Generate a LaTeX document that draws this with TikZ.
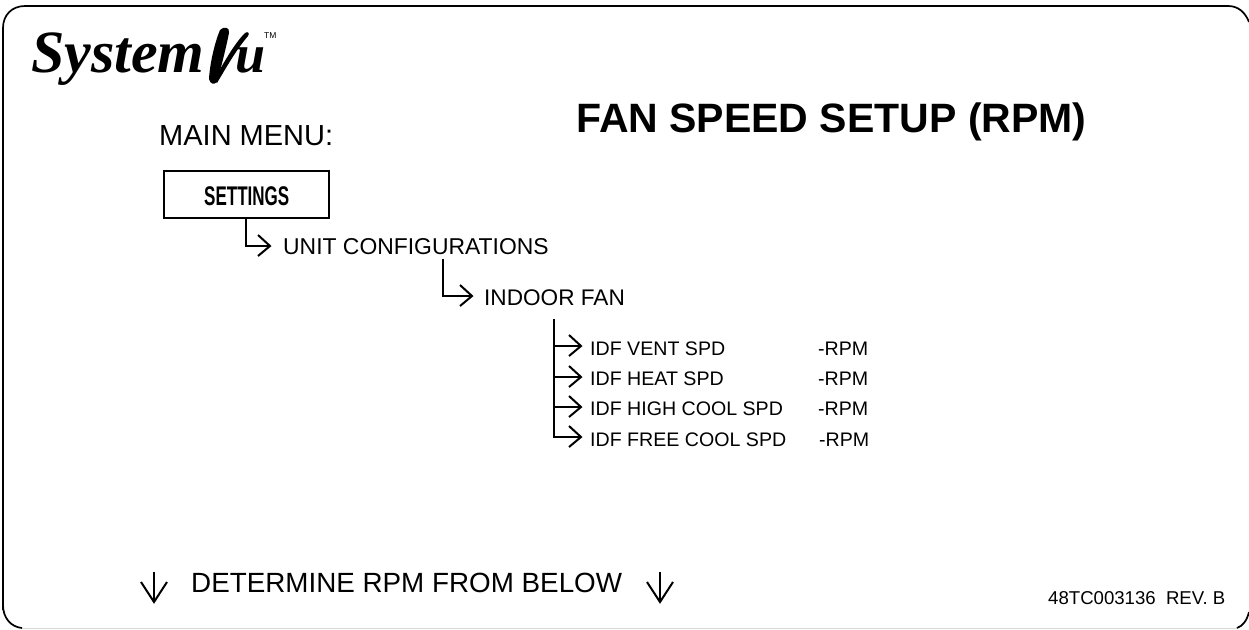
\documentclass[tikz,border=0pt]{standalone}
\usepackage{fontspec}
\setmainfont{Liberation Sans}
\newfontfamily\logofont{Liberation Serif}
\newfontfamily\narrowfont[FakeStretch=0.63]{Liberation Sans}
\begin{document}
\begin{tikzpicture}[x=1pt,y=-1pt,
  lbl/.style={inner sep=0pt,anchor=base west,text=black},
  rowtext/.style={lbl,font=\fontsize{19.6}{19.6}\selectfont},
  conn/.style={line width=2pt,black},
  frameline/.style={line width=1.7pt,black}]
\useasboundingbox (0,0) rectangle (1249,629);
\fill[white] (0,0) rectangle (1249,629);
% frame
\draw[frameline] (3,610) -- (3,28) .. controls (3,15) and (12,6) .. (25,6) -- (1228,6) .. controls (1238,6) and (1245,12) .. (1249,22);
\draw[frameline] (3,605) .. controls (3,618) and (11,627) .. (22,628);
\draw[frameline] (1237,628) .. controls (1243,626) and (1247,620) .. (1249,612);
\draw[line width=1pt,black!15] (22,628.5) -- (1237,628.5);
% logo
\node[lbl] (logo) at (31,72) {\logofont\itshape\bfseries\fontsize{60}{60}\selectfont System};
\fill[black] (220,30) .. controls (224,26) and (230,27) .. (229,33) .. controls (226,48) and (221,68) .. (217,82)
  .. controls (214,85) and (210,84) .. (209,79) .. controls (210,62) and (215,42) .. (220,30) -- cycle;
\fill[black] (214,80) .. controls (223,64) and (234,44) .. (245,33) .. controls (248,31) and (250,33) .. (248,36)
  .. controls (236,50) and (226,68) .. (217,83) -- cycle;
\node[lbl] (vu) at (235,72) {\logofont\itshape\bfseries\fontsize{54}{54}\selectfont u};
\node[lbl] (tm) at (264,38.5) {\fontsize{8.5}{8.5}\selectfont TM};
% labels
\node[lbl] (menu) at (159,145) {\fontsize{29}{29}\selectfont MAIN MENU:};
\node[lbl] (title) at (576,132) {\bfseries\fontsize{41}{41}\selectfont FAN SPEED SETUP (RPM)};
\node[draw=black,line width=2pt,minimum width=165pt,minimum height=47pt,inner sep=0pt] (set) at (246.5,194.5) {};
\node[lbl] (settings) at (204,205) {\narrowfont\bfseries\fontsize{27}{27}\selectfont SETTINGS};
\node[lbl] (unit) at (283,254) {\fontsize{22.9}{22.9}\selectfont UNIT CONFIGURATIONS};
\node[lbl] (fan) at (484,305.5) {\fontsize{22.6}{22.6}\selectfont INDOOR FAN};
\node[rowtext] (v) at (590,355) {IDF VENT SPD};
\node[rowtext] (h) at (590,385) {IDF HEAT SPD};
\node[rowtext] (c) at (590,415.5) {IDF HIGH COOL SPD};
\node[rowtext] (f) at (590,446) {IDF FREE COOL SPD};
\node[rowtext] (r1) at (818,355) {-RPM};
\node[rowtext] (r2) at (818,385) {-RPM};
\node[rowtext] (r3) at (818,415.5) {-RPM};
\node[rowtext] (r4) at (819,446) {-RPM};
\node[lbl] (det) at (191,592) {\fontsize{27.8}{27.8}\selectfont DETERMINE RPM FROM BELOW};
\node[lbl] (rev) at (1048,604) {\fontsize{18.6}{18.6}\selectfont 48TC003136\ \ REV. B};
% connectors
\coordinate (a1) at (270,246);
\coordinate (a2) at (472,296);
\coordinate (a3) at (581,346);
\coordinate (a4) at (581,377);
\coordinate (a5) at (581,407);
\coordinate (a6) at (581,437);
\draw[conn] (246,219) -- (246,246) -- (a1);
\draw[conn] (443,259) -- (443,296) -- (a2);
\draw[conn] (554,319) -- (554,437) -- (a6);
\draw[conn] (554,346) -- (a3);
\draw[conn] (554,377) -- (a4);
\draw[conn] (554,407) -- (a5);
\foreach \p in {a1,a2,a3,a4,a5,a6}
  \draw[conn] ([shift={(-12,-11)}]\p) -- (\p) -- ([shift={(-12,10)}]\p);
\coordinate (d1) at (154,602);
\coordinate (d2) at (660,602);
\foreach \p in {d1,d2} {
  \draw[conn] ([shift={(0,-30)}]\p) -- (\p);
  \draw[conn] ([shift={(-13,-20)}]\p) -- (\p) -- ([shift={(13,-20)}]\p);
}
\end{tikzpicture}
\end{document}
